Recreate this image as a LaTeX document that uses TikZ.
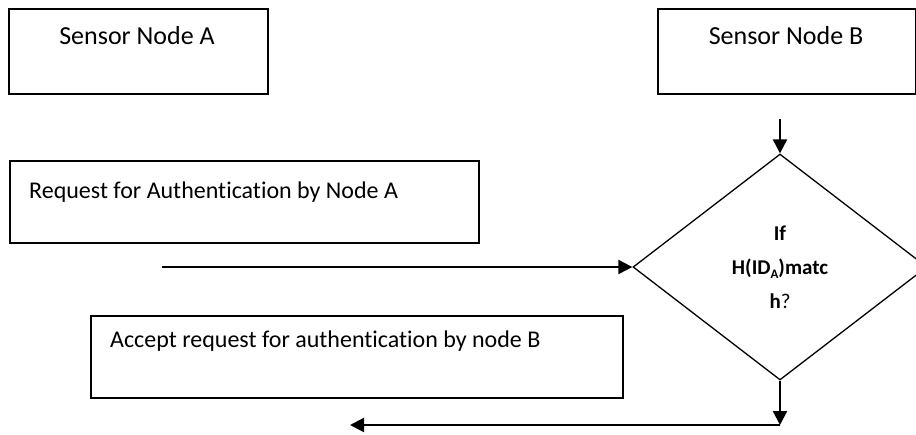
\documentclass[tikz,border=0pt]{standalone}
\usepackage{fontspec}
\setmainfont{Carlito}[Ligatures={NoCommon}]
\usetikzlibrary{shapes.geometric,arrows.meta}
\begin{document}
\begin{tikzpicture}[x=1pt,y=-1pt,
  box/.style={draw, line width=1.8pt, anchor=north west, inner sep=0pt},
  lbl/.style={inner sep=0pt, font=\fontsize{26}{30}\selectfont},
  txt/.style={inner sep=0pt, anchor=west, font=\fontsize{24}{28}\selectfont},
  arr/.style={line width=2.2pt, -{Triangle[length=14pt,width=14pt]}}]
\useasboundingbox (0,0) rectangle (916,434);
\clip (0,0) rectangle (916,434);
% boxes
\node[box, minimum width=259pt, minimum height=85pt] (A) at (8,8) {};
\node[box, minimum width=258pt, minimum height=85pt] (B) at (657,8) {};
\node[box, minimum width=469pt, minimum height=82pt] (R) at (9,160) {};
\node[box, minimum width=532pt, minimum height=82pt] (C) at (90,315) {};
% texts
\node[lbl] (ta) at (137,36) {Sensor Node A};
\node[lbl] (tb) at (786,36) {Sensor Node B};
\node[txt] (tr) at (29,192) {Request for Authentication by Node A};
\node[txt] (tc) at (110,341) {Accept request for authentication by node B};
% decision
\node[diamond, draw, line width=1.3pt, minimum width=294pt, minimum height=226pt,
      inner sep=0pt, align=center, font=\bfseries\fontsize{21}{34}\selectfont]
      (D) at (780,267) {If\\H(ID\raisebox{-4pt}{\fontsize{13}{13}\selectfont A})matc\\h\textmd{?}};
% connectors
\coordinate (t0) at (780,119);
\coordinate (r0) at (162,267);
\coordinate (b1) at (780,425);
\coordinate (b2) at (350,425);
\draw[arr] (t0) -- (D.north);
\draw[arr] (r0) -- (D.west);
\draw[arr] (D.south) -- (b1);
\draw[arr] (b1) -- (b2);
\end{tikzpicture}
\end{document}
